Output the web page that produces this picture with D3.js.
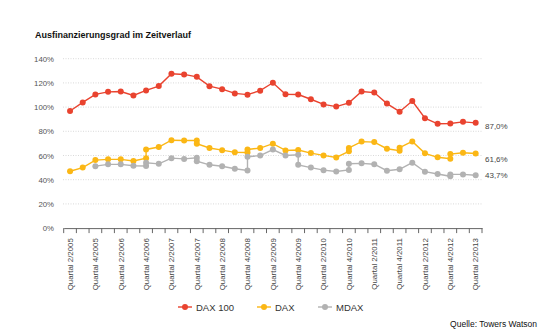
<!DOCTYPE html>
<html lang="de">
<head>
<meta charset="UTF-8">
<script src="https://cdnjs.cloudflare.com/ajax/libs/d3/7.8.5/d3.min.js"></script>
<style>
    body { margin: 0; background: #fff; }
    svg { display: block; font-family: "Liberation Sans", Arial, sans-serif; }
</style>
</head>
<body>
<div id="chart"></div>
<script>
    // Quartale (x-Achse)
    var quartale = [
        "2/2005", "3/2005", "4/2005", "1/2006", "2/2006", "3/2006", "4/2006", "1/2007",
        "2/2007", "3/2007", "4/2007", "1/2008", "2/2008", "3/2008", "4/2008", "1/2009",
        "2/2009", "3/2009", "4/2009", "1/2010", "2/2010", "3/2010", "4/2010", "1/2011",
        "2/2011", "3/2011", "4/2011", "1/2012", "2/2012", "3/2012", "4/2012", "1/2013",
        "2/2013"];
    var tickLabels = [
        "Quartal 2/2005", "Quartal 4/2005", "Quartal 2/2006", "Quartal 4/2006",
        "Quartal 2/2007", "Quartal 4/2007", "Quartal 2/2008", "Quartal 4/2008",
        "Quartal 2/2009", "Quartal 4/2009", "Quartal 2/2010", "Quartal 4/2010",
        "Quartal 2/2011", "Quartal 4/2011", "Quartal 2/2012", "Quartal 4/2012",
        "Quartal 2/2013"];
    var yTicks = [0, 20, 40, 60, 80, 100, 120, 140];

    // Werte in %; [alt, neu] = Indexumstellung im selben Quartal, null = kein Wert
    var dax100 = [96.8, 103.9, 110.5, 112.6, 112.9, 109.6, 113.8, 117.4, 127.5, 127.0, 125.0,
        117.3, 114.8, 111.3, 110.3, 113.6, 120.1, 110.6, 110.4, 106.5, 102.2, 100.4, 103.5,
        112.9, 112.0, 102.9, 96.2, 105.0, 90.8, 86.2, 86.5, 87.8, 87.0];
    var dax = [47.0, 50.0, 56.2, 56.8, 56.8, 55.5, [57.7, 65.0], 67.0, 72.6, 72.4, [72.5, 69.8],
        66.2, 64.4, 62.6, [62.5, 65.0], 66.1, 69.8, 64.2, 64.5, 62.0, 60.1, 58.4, [63.5, 66.3],
        71.5, 71.1, 65.6, [64.0, 66.5], 71.6, 61.8, 58.5, [57.4, 61.2], 62.3, 61.6];
    var mdax = [null, null, 51.2, 52.7, 52.7, 51.5, [51.3, 54.0], 53.1, 57.8, 57.2, [58.1, 55.3],
        52.3, 51.1, 49.1, [47.7, 59.0], 59.9, 64.9, 60.0, [60.6, 52.3], 50.0, 47.9, 46.8,
        [48.1, 53.2], 53.5, 52.8, 47.4, 48.6, 54.1, 46.6, 44.7, [42.8, 44.4], 44.4, 43.7];

    var series = [
        {name: "DAX 100", values: dax100, color: "#e9432f", label: "87,0%", ly: 3},
        {name: "DAX", values: dax, color: "#fbb715", label: "61,6%", ly: 5},
        {name: "MDAX", values: mdax, color: "#b2b2b2", label: "43,7%", ly: 0}
    ];

    var width = 548, height = 335;
    var svg = d3.select("#chart").append("svg")
        .attr("width", width)
        .attr("height", height);

    var x = d3.scaleBand().domain(quartale).range([63.7, 482]);
    var y = d3.scaleLinear().domain([0, 140]).range([228.1, 58.7]);
    var cx = function (q) { return x(q) + x.bandwidth() / 2; };

    svg.append("text")
        .attr("x", 35)
        .attr("y", 37.5)
        .attr("font-size", 9.5)
        .attr("font-weight", "bold")
        .attr("fill", "#111")
        .attr("textLength", 156)
        .attr("lengthAdjust", "spacingAndGlyphs")
        .text("Ausfinanzierungsgrad im Zeitverlauf");

    // Gitternetz
    svg.append("g").selectAll("line")
        .data(yTicks.filter(function (d) { return d > 0; }))
        .join("line")
        .attr("x1", 63)
        .attr("x2", 482)
        .attr("y1", function (d) { return y(d); })
        .attr("y2", function (d) { return y(d); })
        .attr("stroke", "#cfcfcf")
        .attr("stroke-width", 0.8)
        .attr("stroke-dasharray", "1,1.5");

    svg.append("g").selectAll("text")
        .data(yTicks)
        .join("text")
        .attr("x", 54)
        .attr("y", function (d) { return y(d) + 3; })
        .attr("text-anchor", "end")
        .attr("font-size", 7.8)
        .attr("fill", "#555")
        .text(function (d) { return d + "%"; });

    // x-Achse mit Strichen an den Quartalsgrenzen
    var xAxis = d3.axisBottom(x).tickSize(0).tickFormat("");
    var gx = svg.append("g").attr("transform", "translate(0," + y(0) + ")").call(xAxis);
    gx.select(".domain").attr("stroke", "#666").attr("stroke-width", 1);
    gx.selectAll(".bound")
        .data(d3.range(quartale.length + 1))
        .join("line")
        .attr("class", "bound")
        .attr("x1", function (i) { return 63.7 + i * x.step(); })
        .attr("x2", function (i) { return 63.7 + i * x.step(); })
        .attr("y1", 0)
        .attr("y2", 5)
        .attr("stroke", "#666");

    svg.append("g").selectAll("text")
        .data(tickLabels)
        .join("text")
        .attr("transform", function (d) {
            return "translate(" + (cx(d.replace("Quartal ", "")) + 2.8) + "," + (y(0) + 10) + ") rotate(-90)";
        })
        .attr("text-anchor", "end")
        .attr("font-size", 7.9)
        .attr("fill", "#444")
        .text(function (d) { return d; });

    var line = d3.line()
        .x(function (p) { return cx(p.q); })
        .y(function (p) { return y(p.v); });

    series.forEach(function (s) {
        var pts = [];
        s.values.forEach(function (v, i) {
            if (v === null) return;
            [].concat(v).forEach(function (w) { pts.push({q: quartale[i], v: w}); });
        });
        var g = svg.append("g");
        g.append("path")
            .datum(pts)
            .attr("d", line)
            .attr("fill", "none")
            .attr("stroke", s.color)
            .attr("stroke-width", 1.4);
        g.selectAll("circle")
            .data(pts)
            .join("circle")
            .attr("cx", function (p) { return cx(p.q); })
            .attr("cy", function (p) { return y(p.v); })
            .attr("r", 3)
            .attr("fill", s.color);
        var last = pts[pts.length - 1];
        g.append("text")
            .attr("x", 485)
            .attr("y", y(last.v) + 3 + s.ly)
            .attr("font-size", 8)
            .attr("fill", "#444")
            .text(s.label);
    });

    // Legende
    var legendX = [178, 257, 318];
    var leg = svg.append("g").selectAll("g")
        .data(series)
        .join("g")
        .attr("transform", function (s, i) { return "translate(" + legendX[i] + ",307)"; });
    leg.append("line")
        .attr("x1", 0).attr("x2", 14)
        .attr("stroke", function (s) { return s.color; })
        .attr("stroke-width", 1.4);
    leg.append("circle")
        .attr("cx", 7).attr("r", 3)
        .attr("fill", function (s) { return s.color; });
    leg.append("text")
        .attr("x", 18)
        .attr("y", 3.5)
        .attr("font-size", 9.5)
        .attr("fill", "#333")
        .text(function (s) { return s.name; });

    svg.append("text")
        .attr("x", 537)
        .attr("y", 327)
        .attr("text-anchor", "end")
        .attr("font-size", 8.5)
        .attr("fill", "#111")
        .text("Quelle: Towers Watson");
</script>
</body>
</html>
